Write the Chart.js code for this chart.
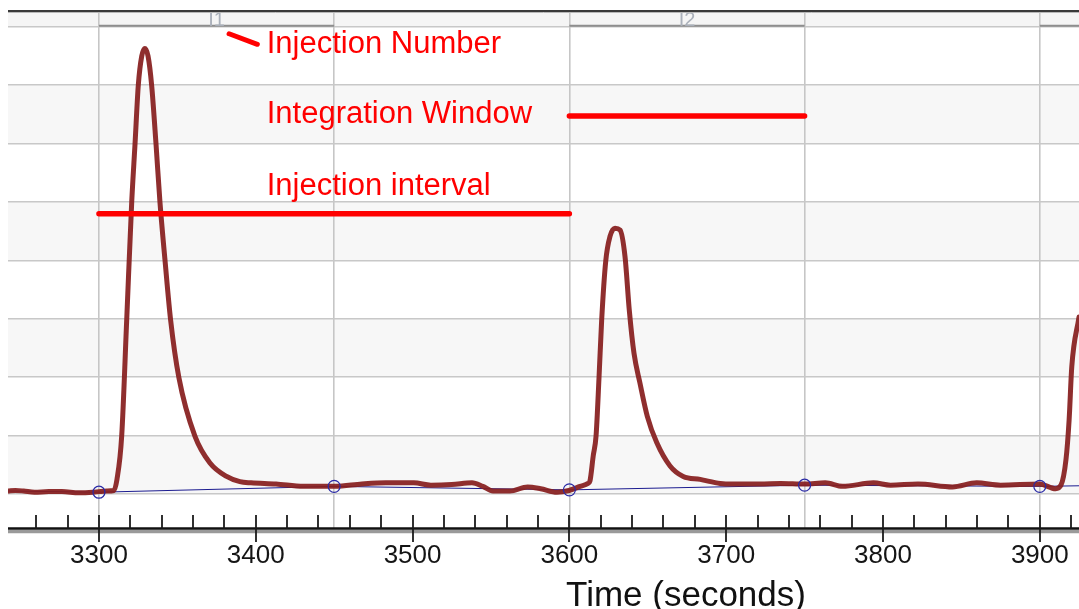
<!DOCTYPE html>
<html><head><meta charset="utf-8">
<script src="https://cdn.jsdelivr.net/npm/chart.js@4.4.0/dist/chart.umd.min.js"></script>
<style>html,body{margin:0;padding:0;background:#fff;overflow:hidden}canvas{display:block}</style>
</head><body>
<canvas id="c" width="1079" height="609"></canvas>
<script>
// ---- data ----
const timeS = [3242,3246.7,3252,3258.9,3268,3276.4,3287.2,3296.2,3300,3305,3309.5,3311.5,3314.5,3317.7,3320.9,3323,3325.1,3327.3,3329.3,3331.3,3333.6,3336.4,3338.9,3342.1,3345.7,3351,3361.2,3370.8,3381.4,3389.9,3397,3412.9,3430.4,3450.5,3467.7,3483,3500.8,3511.7,3525,3537.9,3544.8,3551.3,3562.1,3573.3,3581.7,3592.1,3599.7,3606.8,3611.9,3613.1,3615.2,3617,3618.9,3620.6,3623.2,3625.9,3629.1,3632.3,3635.5,3638.2,3641.2,3645,3649.7,3655.7,3664.2,3672.6,3683.4,3696.2,3704,3721.6,3734.7,3750,3763.2,3774.2,3793.9,3804.8,3822.3,3844.3,3859.7,3875,3899.8,3910.1,3913.5,3916.7,3918.7,3920.4,3925];
const signal = [0.05,0.06,0.05,0.03,0.04,0.04,0.02,0.03,0.04,0.05,0.06,0.25,0.99,2.98,5.0,5.99,7.0,7.5,7.63,7.5,7.0,5.99,5.0,4.01,2.98,1.99,0.99,0.53,0.30,0.21,0.19,0.17,0.13,0.13,0.17,0.19,0.19,0.15,0.16,0.19,0.13,0.05,0.05,0.12,0.09,0.03,0.06,0.13,0.18,0.22,0.65,0.99,1.99,2.98,3.99,4.41,4.55,4.52,4.06,3.15,2.41,1.90,1.33,0.88,0.48,0.30,0.25,0.18,0.17,0.17,0.18,0.17,0.19,0.13,0.19,0.15,0.17,0.12,0.19,0.15,0.17,0.09,0.15,0.59,1.27,2.18,3.03];
const baselineT = [3242,3300,3450,3600,3750,3900,3925];
const baselineV = [0.05,0.03,0.13,0.07,0.15,0.13,0.14];
const markerT = [3300,3450,3600,3750,3900];
const markerV = [0.03,0.13,0.07,0.15,0.13];
const windowStarts = [3300,3600,3900];
const windowEnds = [3450,3750,4050];
const injectionLabels = ['I1','I2','I3'];
const majorTicks = [3300,3400,3500,3600,3700,3800,3900];
const yGrid = [0,1,2,3,4,5,6,7,8];
const intervalT = [3300,3600], intervalV = [4.8,4.8];
const windowT = [3600,3750], windowV = [6.47,6.47];
const pointerT = [3383,3401], pointerV = [7.88,7.70];
const noteTexts = ['Injection Number','Integration Window','Injection interval'];
const noteT = [3407,3407,3407];
const noteV = [7.55,6.35,5.12];
const axisTitle = 'Time (seconds)';

// ---- chart ----
const X_MIN = 3242, X_MAX = 3925, Y_MIN = -0.6, Y_MAX = 8.27, MINOR = 20;
const FONT = "'Liberation Sans', Arial, sans-serif";
const pts = (xs, ys) => xs.map((x, i) => ({x, y: ys[i]}));

const bandsPlugin = {
  id: 'bands',
  beforeDraw(chart) {
    const {ctx, chartArea: a, scales: {y}} = chart;
    ctx.save();
    ctx.fillStyle = '#fff';
    ctx.fillRect(0, 0, chart.width, chart.height);
    ctx.fillStyle = '#f7f7f7';
    for (let i = 0; i + 1 < yGrid.length; i += 2) {
      const t = y.getPixelForValue(yGrid[i + 1]), b = y.getPixelForValue(yGrid[i]);
      ctx.fillRect(a.left, t, a.right - a.left, b - t);
    }
    const top = y.getPixelForValue(yGrid[yGrid.length - 1]);
    ctx.fillStyle = '#f5f5f5';
    ctx.fillRect(a.left, a.top, a.right - a.left, top - a.top);
    ctx.restore();
  }
};

const overlayPlugin = {
  id: 'overlay',
  afterDatasetsDraw(chart) {
    const {ctx, chartArea: a, scales: {x, y}} = chart;
    ctx.save();
    // injection brackets
    const yb = y.getPixelForValue(yGrid[yGrid.length - 1]) - 1;
    ctx.save();
    ctx.beginPath(); ctx.rect(a.left, a.top + 1, a.right - a.left, a.bottom - a.top); ctx.clip();
    ctx.strokeStyle = '#8e8e8e'; ctx.lineWidth = 2;
    windowStarts.forEach((s, i) => {
      const x0 = x.getPixelForValue(s), x1 = x.getPixelForValue(windowEnds[i]);
      ctx.beginPath(); ctx.moveTo(x0, yb); ctx.lineTo(x1, yb); ctx.stroke();
      ctx.fillStyle = '#aab0ba'; ctx.font = '20px ' + FONT; ctx.textAlign = 'center'; ctx.textBaseline = 'alphabetic';
      ctx.fillText(injectionLabels[i], (x0 + x1) / 2, yb + 0.5);
    });
    ctx.restore();
    // red notes
    ctx.fillStyle = '#ff0000'; ctx.font = '31px ' + FONT; ctx.textAlign = 'left'; ctx.textBaseline = 'alphabetic';
    noteTexts.forEach((t, i) => ctx.fillText(t, x.getPixelForValue(noteT[i]), y.getPixelForValue(noteV[i])));
    // top border line
    ctx.strokeStyle = '#3a3a3a'; ctx.lineWidth = 2;
    ctx.beginPath(); ctx.moveTo(a.left, a.top); ctx.lineTo(a.right, a.top); ctx.stroke();
    ctx.strokeStyle = '#b8b8b8'; ctx.lineWidth = 1;
    ctx.beginPath(); ctx.moveTo(a.left, a.top + 1.5); ctx.lineTo(a.right, a.top + 1.5); ctx.stroke();
    // axis line
    const ab = a.bottom;
    ctx.strokeStyle = '#9a9a9a'; ctx.lineWidth = 3.5;
    ctx.beginPath(); ctx.moveTo(a.left, ab + 2.5); ctx.lineTo(a.right, ab + 2.5); ctx.stroke();
    ctx.strokeStyle = '#111'; ctx.lineWidth = 2.5;
    ctx.beginPath(); ctx.moveTo(a.left, ab - 0.5); ctx.lineTo(a.right, ab - 0.5); ctx.stroke();
    // tick marks
    ctx.strokeStyle = '#1a1a1a'; ctx.lineWidth = 1.8;
    const first = Math.ceil(X_MIN / MINOR) * MINOR;
    for (let v = first; v <= X_MAX; v += MINOR) {
      const px = Math.round(x.getPixelForValue(v));
      const major = majorTicks.includes(v);
      ctx.beginPath(); ctx.moveTo(px, ab - 14); ctx.lineTo(px, major ? ab + 13 : ab); ctx.stroke();
    }
    ctx.restore();
  },
  afterDraw(chart) {
    const {ctx} = chart;
    ctx.save();
    ctx.fillStyle = '#111'; ctx.font = '35px ' + FONT; ctx.textAlign = 'center'; ctx.textBaseline = 'alphabetic';
    ctx.fillText(axisTitle, 686, 606);
    ctx.restore();
  }
};

new Chart(document.getElementById('c'), {
  type: 'line',
  data: {
    datasets: [
      {label: 'Injection interval', data: pts(intervalT, intervalV), borderColor: '#ff0000', borderWidth: 5.5, borderCapStyle: 'round', pointRadius: 0, order: 0},
      {label: 'Integration window', data: pts(windowT, windowV), borderColor: '#ff0000', borderWidth: 5.5, borderCapStyle: 'round', pointRadius: 0, order: 0},
      {label: 'Pointer', data: pts(pointerT, pointerV), borderColor: '#ff0000', borderWidth: 5, borderCapStyle: 'round', pointRadius: 0, order: 0},
      {label: 'Markers', data: pts(markerT, markerV), showLine: false, pointRadius: 6, pointBorderWidth: 1.2, pointBorderColor: '#2a2aa6', pointBackgroundColor: 'rgba(0,0,0,0)', order: 1},
      {label: 'Signal', data: pts(timeS, signal), borderColor: 'rgba(135,30,30,0.93)', borderWidth: 5, pointRadius: 0, cubicInterpolationMode: 'monotone', borderJoinStyle: 'round', borderCapStyle: 'round', order: 2},
      {label: 'Baseline', data: pts(baselineT, baselineV), borderColor: '#1c1c90', borderWidth: 1, pointRadius: 0, order: 3}
    ]
  },
  options: {
    responsive: false,
    animation: false,
    devicePixelRatio: 1,
    layout: {autoPadding: false, padding: {left: 8, right: 0, top: 11, bottom: 0}},
    plugins: {legend: {display: false}, tooltip: {enabled: false}, title: {display: false}},
    scales: {
      x: {
        type: 'linear', position: 'bottom', min: X_MIN, max: X_MAX,
        grid: {display: false, drawTicks: false},
        border: {display: false},
        afterBuildTicks: s => { s.ticks = majorTicks.map(v => ({value: v})); },
        afterFit: s => { s.height = 80; s.paddingLeft = 0; s.paddingRight = 0; },
        ticks: {autoSkip: false, maxRotation: 0, padding: 0, color: '#151515',
          font: {family: FONT, size: 26, lineHeight: 2.1}, callback: v => String(v)}
      },
      x2: {
        type: 'linear', position: 'top', min: X_MIN, max: X_MAX,
        grid: {display: true, drawTicks: false, color: '#c6c6c6', lineWidth: 1.6},
        border: {display: false},
        afterBuildTicks: s => { s.ticks = windowStarts.concat(windowEnds).filter(v => v >= X_MIN && v <= X_MAX).sort((a, b) => a - b).map(v => ({value: v})); },
        afterFit: s => { s.height = 0; s.paddingLeft = 0; s.paddingRight = 0; },
        ticks: {display: false, padding: 0}
      },
      y: {
        type: 'linear', position: 'left', min: Y_MIN, max: Y_MAX,
        grid: {display: true, drawTicks: false, color: '#c8c8c8', lineWidth: 1.6},
        border: {display: false},
        afterBuildTicks: s => { s.ticks = yGrid.map(v => ({value: v})); },
        afterFit: s => { s.width = 0; },
        ticks: {display: false}
      }
    }
  },
  plugins: [bandsPlugin, overlayPlugin]
});
</script>
</body></html>
